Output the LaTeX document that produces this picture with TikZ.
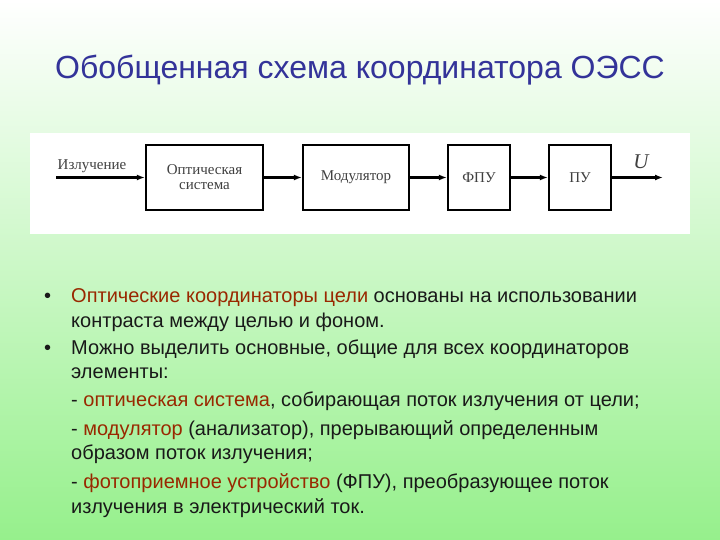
\documentclass[tikz,border=0pt]{standalone}
\usepackage{fontspec}
\setmainfont{Liberation Sans}
\newfontfamily\diagfont{Liberation Serif}
\usetikzlibrary{arrows.meta}
\definecolor{titleblue}{RGB}{51,51,153}
\definecolor{termred}{RGB}{153,40,0}
\definecolor{bggreen}{RGB}{150,240,140}
\tikzset{
  blok/.style={draw=black, line width=2.3pt, fill=white, minimum height=65pt, inner sep=0pt,
    align=center, text=black!75, font=\diagfont\fontsize{15}{15}\selectfont},
  pot/.style={line width=2.3pt, -{Latex[length=8pt,width=6pt]}},
  strok/.style={anchor=base west, inner sep=0pt, text=black!90, font=\fontsize{20}{22}\selectfont}
}
\begin{document}
\begin{tikzpicture}[x=1pt,y=-1pt]
\useasboundingbox (0,0) rectangle (720,540);
\shade[top color=white, bottom color=bggreen] (0,0) rectangle (720,540);

%Title
\node[text=titleblue, font=\fontsize{32}{34}\selectfont] (zagl) at (360,70) {Обобщенная схема координатора ОЭСС};

%Scheme
\fill[white] (30,133) rectangle (690,234);
\node[blok, minimum width=117pt] (opt) at (204.5,177.5) {Оптическая\\система};
\node[blok, minimum width=106pt] (mod) at (356,177.5) {Модулятор};
\node[blok, minimum width=62pt] (fpu) at (479,177.5) {ФПУ};
\node[blok, minimum width=62pt] (pu) at (580,177.5) {ПУ};
\coordinate (vx) at (56,177.5);
\coordinate (vyh) at (663,177.5);
\node[text=black!75, font=\diagfont\fontsize{15}{15}\selectfont] (izl) at (92,166) {Излучение};
\node[text=black!75, font=\diagfont\itshape\fontsize{21}{22}\selectfont] (u) at (641,162) {U};
\draw[pot] (vx) -- (opt.west);
\draw[pot] (opt) -- (mod);
\draw[pot] (mod) -- (fpu);
\draw[pot] (fpu) -- (pu);
\draw[pot] (pu) -- (vyh);

%Text
\node[strok] (b1) at (44,302) {•};
\node[strok] (s1) at (71,302) {\textcolor{termred}{Оптические координаторы цели} основаны на использовании};
\node[strok] (s2) at (71,327) {контраста между целью и фоном.};
\node[strok] (b2) at (44,354) {•};
\node[strok] (s3) at (71,354) {Можно выделить основные, общие для всех координаторов};
\node[strok] (s4) at (71,378) {элементы:};
\node[strok] (s5) at (71,406) {- \textcolor{termred}{оптическая система}, собирающая поток излучения от цели;};
\node[strok] (s6) at (71,435) {- \textcolor{termred}{модулятор} (анализатор), прерывающий определенным};
\node[strok] (s7) at (71,459) {образом поток излучения;};
\node[strok] (s8) at (71,488) {- \textcolor{termred}{фотоприемное устройство} (ФПУ), преобразующее поток};
\node[strok] (s9) at (71,513) {излучения в электрический ток.};
\end{tikzpicture}
\end{document}
